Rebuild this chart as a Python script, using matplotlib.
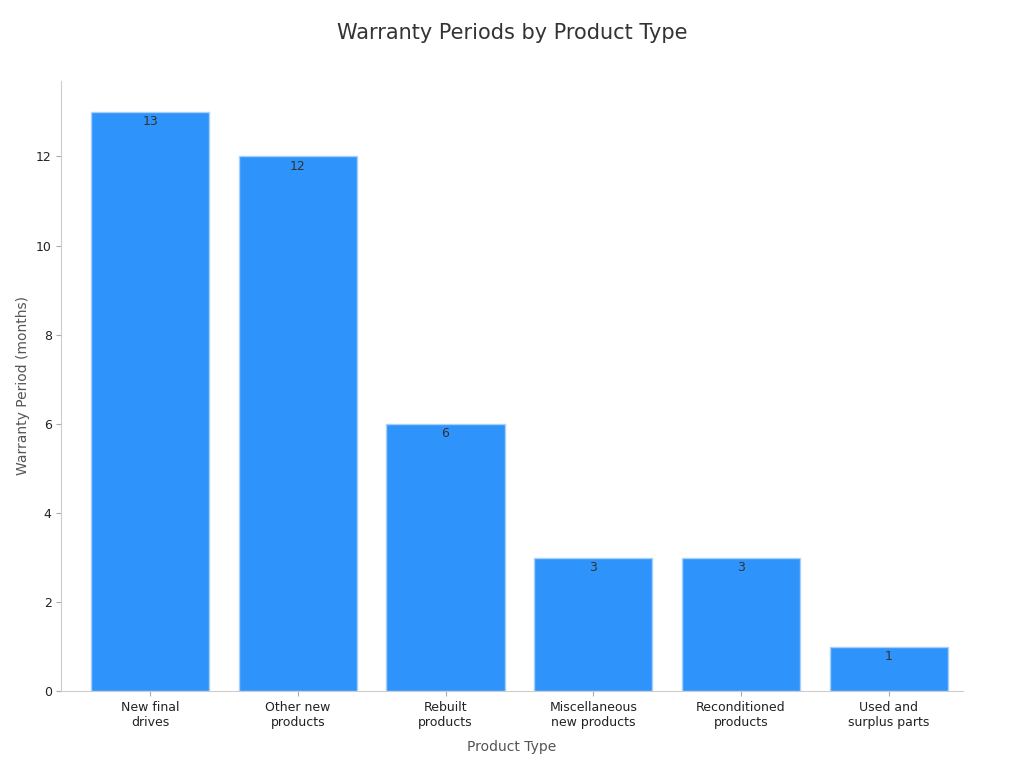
import matplotlib.pyplot as plt

categories = ["New final\ndrives", "Other new\nproducts", "Rebuilt\nproducts",
              "Miscellaneous\nnew products", "Reconditioned\nproducts", "Used and\nsurplus parts"]
values = [13, 12, 6, 3, 3, 1]

fig, ax = plt.subplots(figsize=(10.24, 7.68), dpi=100)
fig.subplots_adjust(left=0.06, right=0.94, top=0.895, bottom=0.1)

bars = ax.bar(range(len(values)), values, width=0.8, color='#2e93fa', edgecolor='#a8d0fb', linewidth=1)
for i, v in enumerate(values):
    ax.text(i, v - 0.08, str(v), ha='center', va='top', fontsize=9, color='#333333')

ax.set_xticks(range(len(values)))
ax.set_xticklabels(categories, fontsize=9, color='#222222')
ax.set_xlim(-0.6, 5.5)
ax.set_ylim(0, 13.7)
ax.set_yticks(range(0, 13, 2))
ax.tick_params(axis='y', labelsize=9, colors='#222222')
ax.tick_params(axis='both', color='#aaaaaa')
ax.spines['top'].set_visible(False)
ax.spines['right'].set_visible(False)
for s in ('left', 'bottom'):
    ax.spines[s].set_color('#cccccc')
ax.set_xlabel('Product Type', fontsize=10, color='#555555', labelpad=8)
ax.set_ylabel('Warranty Period (months)', fontsize=10, color='#555555')
fig.suptitle('Warranty Periods by Product Type', fontsize=15, color='#333333', y=0.97)

fig.savefig('out.png')
